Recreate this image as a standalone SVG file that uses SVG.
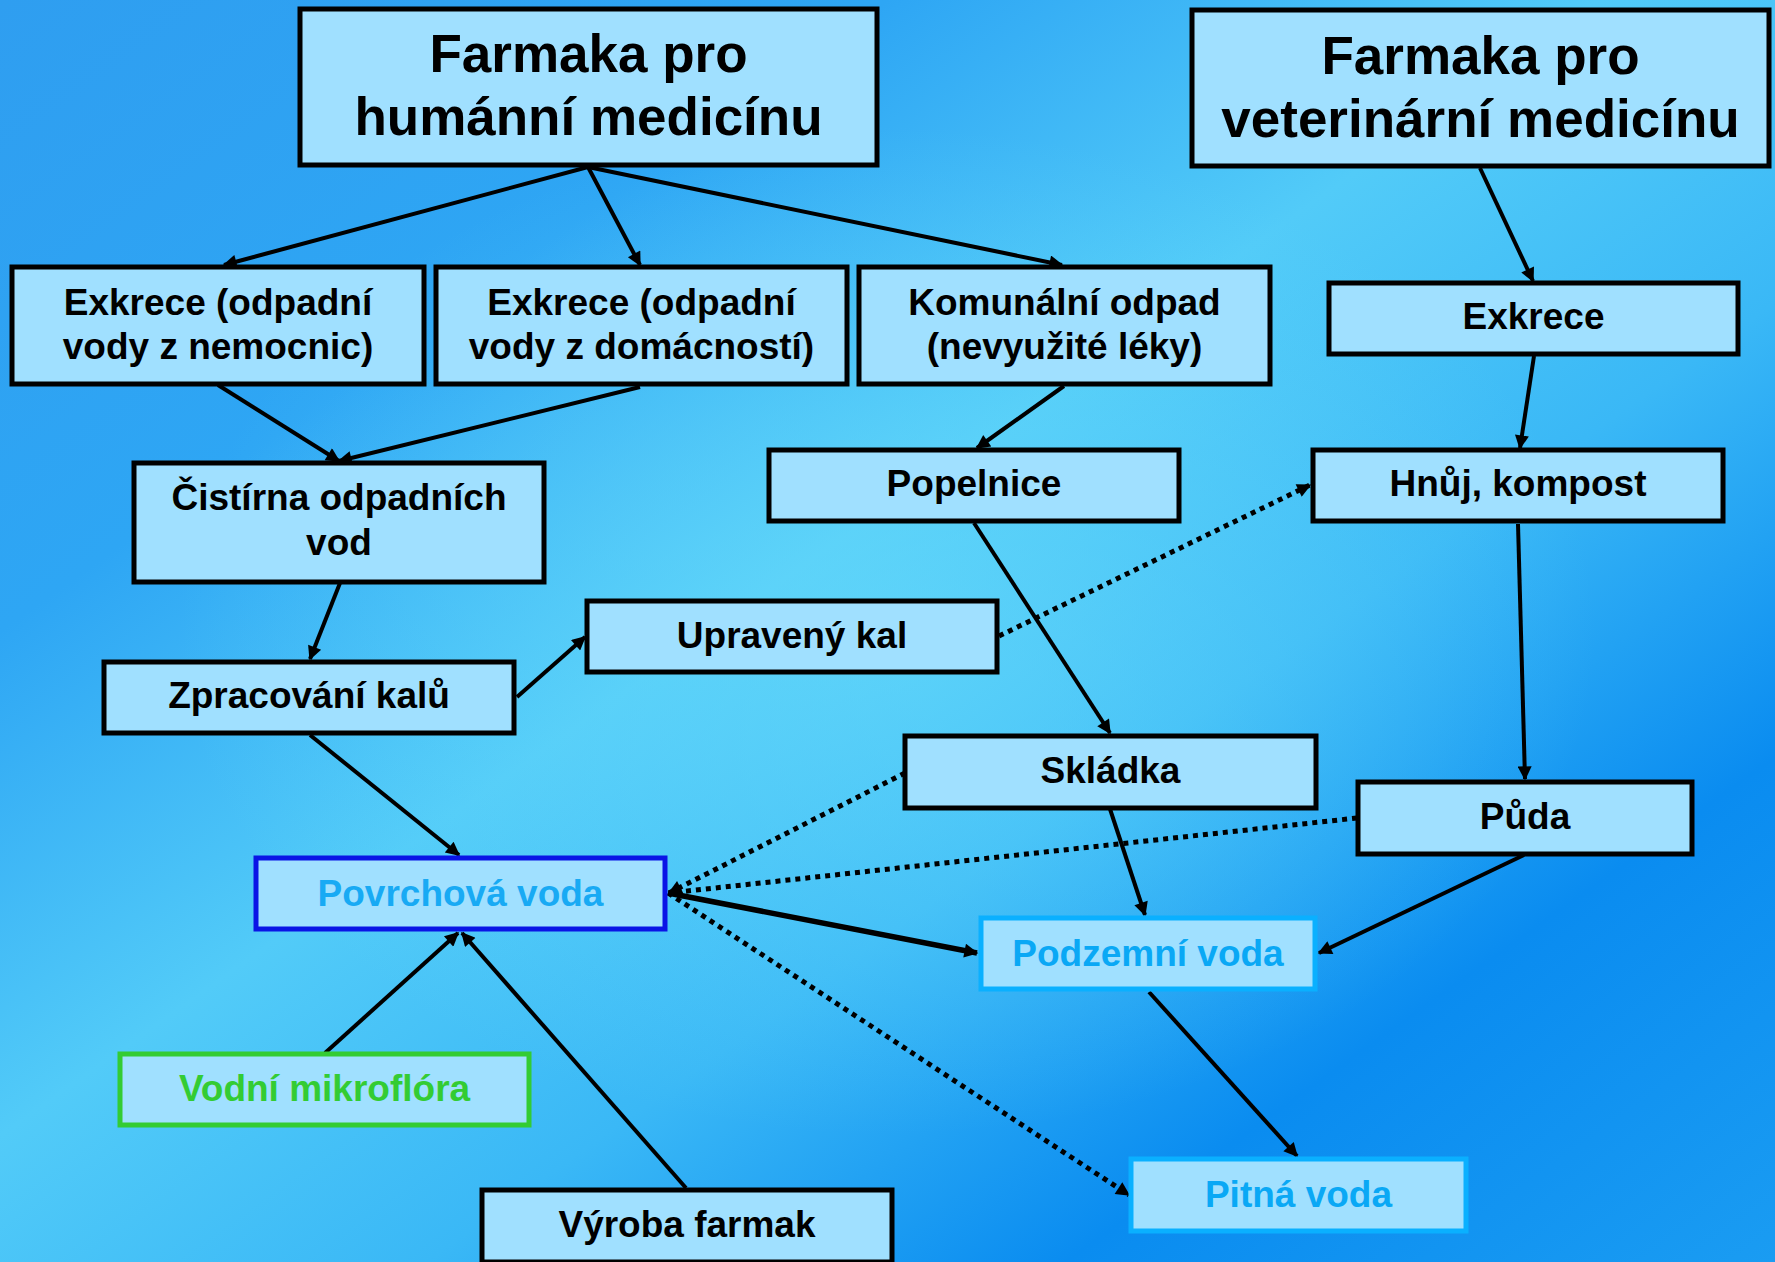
<svg xmlns="http://www.w3.org/2000/svg" width="1775" height="1262" viewBox="0 0 1775 1262">
<defs>
<linearGradient id="bg" x1="0" y1="0" x2="1" y2="1">
<stop offset="0" stop-color="#2f9ef0"/>
<stop offset="0.25" stop-color="#2ea6f4"/>
<stop offset="0.45" stop-color="#52cbf8"/>
<stop offset="0.62" stop-color="#3ab8f6"/>
<stop offset="0.8" stop-color="#0a8cf0"/>
<stop offset="1" stop-color="#1a9cf2"/>
</linearGradient>
<radialGradient id="glow" cx="0.5" cy="0.5" r="0.4">
<stop offset="0" stop-color="#66dafa" stop-opacity="0.65"/>
<stop offset="1" stop-color="#66dafa" stop-opacity="0"/>
</radialGradient>
<marker id="ah" viewBox="0 0 10 10" refX="9" refY="5" markerWidth="18" markerHeight="14" markerUnits="userSpaceOnUse" orient="auto">
<path d="M0,0 L10,5 L0,10 z" fill="#000"/>
</marker>
<style>
.box{fill:#a0e0ff;stroke:#000;stroke-width:5}
.t{font-family:"Liberation Sans",Arial,sans-serif;font-weight:bold;font-size:37px;fill:#000;text-anchor:middle}
.big{font-size:53px}
.c line{stroke:#000;stroke-width:4;marker-end:url(#ah)}
.c line.d{stroke-dasharray:5 5;stroke-width:5}
.c line.w{stroke-width:5.5}
</style>
</defs>
<rect width="1775" height="1262" fill="url(#bg)"/>
<rect width="1775" height="1262" fill="url(#glow)"/>

<g class="c" id="connectors">
<line x1="588" y1="167" x2="224" y2="265"/>
<line x1="588" y1="167" x2="640" y2="265"/>
<line x1="588" y1="167" x2="1062" y2="265"/>
<line x1="1480" y1="168" x2="1533" y2="281"/>
<line x1="218" y1="385" x2="339" y2="461"/>
<line x1="640" y1="387" x2="339" y2="461"/>
<line x1="1064" y1="386" x2="977" y2="448"/>
<line x1="1534" y1="356" x2="1520" y2="448"/>
<line x1="340" y1="583" x2="310" y2="659"/>
<line x1="517" y1="697" x2="585" y2="637"/>
<line x1="310" y1="735" x2="459" y2="855"/>
<line x1="974" y1="523" x2="1110" y2="733"/>
<line class="d" x1="999" y1="636" x2="1310" y2="485"/>
<line x1="1518" y1="524" x2="1525" y2="779"/>
<line x1="1110" y1="809" x2="1145" y2="915"/>
<line x1="1524" y1="855" x2="1319" y2="953"/>
<line class="d" x1="905" y1="773" x2="669" y2="893"/>
<line class="d" x1="1357" y1="818" x2="669" y2="893"/>
<line class="w" x1="668" y1="893" x2="977" y2="953"/>
<line class="d" x1="668" y1="893" x2="1129" y2="1195"/>
<line x1="325" y1="1053" x2="458" y2="933"/>
<line x1="686" y1="1188" x2="462" y2="933"/>
<line x1="1149" y1="992" x2="1297" y2="1156"/>
</g>

<g id="n1"><rect class="box" x="300" y="9" width="577" height="156"/><text class="t big" x="588.5" y="72">Farmaka pro</text><text class="t big" x="588.5" y="135">humánní medicínu</text></g>
<g id="n2"><rect class="box" x="1192" y="10" width="577" height="156"/><text class="t big" x="1480.5" y="74">Farmaka pro</text><text class="t big" x="1480.5" y="137">veterinární medicínu</text></g>
<g id="n3"><rect class="box" x="12" y="267" width="412" height="117"/><text class="t" x="218" y="315">Exkrece (odpadní</text><text class="t" x="218" y="359">vody z nemocnic)</text></g>
<g id="n4"><rect class="box" x="436" y="267" width="411" height="117"/><text class="t" x="641.5" y="315">Exkrece (odpadní</text><text class="t" x="641.5" y="359">vody z domácností)</text></g>
<g id="n5"><rect class="box" x="859" y="267" width="411" height="117"/><text class="t" x="1064.5" y="315">Komunální odpad</text><text class="t" x="1064.5" y="359">(nevyužité léky)</text></g>
<g id="n6"><rect class="box" x="1329" y="283" width="409" height="71"/><text class="t" x="1533.5" y="329">Exkrece</text></g>
<g id="n7"><rect class="box" x="134" y="463" width="410" height="119"/><text class="t" x="339" y="510">Čistírna odpadních</text><text class="t" x="339" y="555">vod</text></g>
<g id="n8"><rect class="box" x="769" y="450" width="410" height="71"/><text class="t" x="974" y="496">Popelnice</text></g>
<g id="n9"><rect class="box" x="1313" y="450" width="410" height="71"/><text class="t" x="1518" y="496">Hnůj, kompost</text></g>
<g id="n10"><rect class="box" x="587" y="601" width="410" height="71"/><text class="t" x="792" y="648">Upravený kal</text></g>
<g id="n11"><rect class="box" x="104" y="662" width="410" height="71"/><text class="t" x="309" y="708">Zpracování kalů</text></g>
<g id="n12"><rect class="box" x="905" y="736" width="411" height="72"/><text class="t" x="1110.5" y="783">Skládka</text></g>
<g id="n13"><rect class="box" x="1358" y="782" width="334" height="72"/><text class="t" x="1525" y="829">Půda</text></g>
<g id="n14"><rect class="box" x="256" y="858" width="409" height="71" style="stroke:#0a14e6"/><text class="t" x="460.5" y="906" style="fill:#18aaf4">Povrchová voda</text></g>
<g id="n15"><rect class="box" x="981" y="918" width="334" height="71" style="stroke:#0ab0ff"/><text class="t" x="1148" y="966" style="fill:#0aa8f5">Podzemní voda</text></g>
<g id="n16"><rect class="box" x="120" y="1054" width="409" height="71" style="stroke:#33cc33"/><text class="t" x="324.5" y="1101" style="fill:#33cc33">Vodní mikroflóra</text></g>
<g id="n17"><rect class="box" x="482" y="1190" width="410" height="72"/><text class="t" x="687" y="1237">Výroba farmak</text></g>
<g id="n18"><rect class="box" x="1131" y="1159" width="335" height="72" style="stroke:#0ab0ff"/><text class="t" x="1298.5" y="1207" style="fill:#0aa8f5">Pitná voda</text></g>
</svg>
